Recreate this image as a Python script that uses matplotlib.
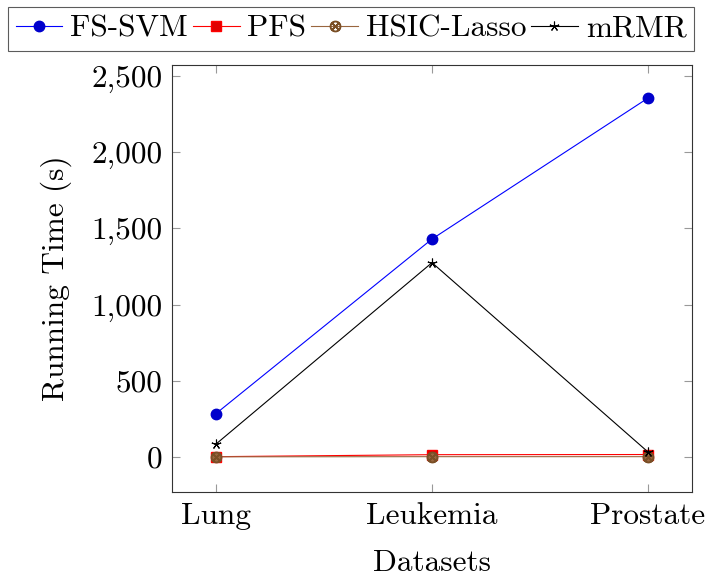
import matplotlib
matplotlib.use("Agg")
import matplotlib.pyplot as plt
from matplotlib.ticker import FuncFormatter

plt.rcParams['font.family'] = 'serif'
plt.rcParams['font.serif'] = ['cmr10', 'DejaVu Serif']
plt.rcParams['mathtext.fontset'] = 'cm'
plt.rcParams['axes.formatter.use_mathtext'] = True

datasets = ["Lung", "Leukemia", "Prostate"]
fs_svm = [285, 1430, 2355]
pfs = [2, 15, 16]
hsic_lasso = [1, 2, 2]
mrmr = [85, 1275, 33]

fig = plt.figure(figsize=(7.07, 5.82), dpi=100)
ax = fig.add_axes([0.2433, 0.1546, 0.7355, 0.7337])
x = list(range(len(datasets)))

FS = 22.5

l1, = ax.plot(x, fs_svm, color='#0000ff', lw=0.8, marker='o', ms=7.5,
              mfc='#0000cc', mec='#0000cc', label='FS-SVM')
l2, = ax.plot(x, pfs, color='#ff0000', lw=0.8, marker='s', ms=7,
              mfc='#e00000', mec='#ff0000', label='PFS')
ax.plot(x, hsic_lasso, color='none', marker='o', ms=7, mfc='#99663f', mec='#99663f', zorder=2)
l3, = ax.plot(x, hsic_lasso, color='#99663f', lw=0.8, marker='$\\otimes$', ms=7.5,
              mfc='#99663f', mec='#7a4f26', label='HSIC-Lasso')
l4, = ax.plot(x, mrmr, color='black', lw=0.8, marker=(5, 2, 0), ms=7,
              mfc='black', mec='black', mew=0.8, label='mRMR')

ax.set_xlim(-0.204, 2.204)
ax.set_ylim(-230, 2572)
ax.set_xticks(x)
ax.set_xticklabels(datasets)
ax.set_yticks([0, 500, 1000, 1500, 2000, 2500])
ax.yaxis.set_major_formatter(FuncFormatter(lambda v, p: f"{int(v):,}"))
ax.tick_params(direction='in', length=6, width=0.8, color='#999999',
               top=True, right=True, labelsize=FS, pad=7)
for s in ax.spines.values():
    s.set_linewidth(0.8)
    s.set_color('#333333')
ax.set_xlabel('Datasets', fontsize=FS, labelpad=14)
ax.set_ylabel('Running Time (s)', fontsize=FS, labelpad=14)

leg = fig.legend(handles=[l1, l2, l3, l4], loc='upper center', bbox_to_anchor=(0.4965, 0.993),
                 ncol=4, fontsize=FS, frameon=True, fancybox=False, edgecolor='#333333',
                 handlelength=1.5, handletextpad=0.25, columnspacing=0.15, borderpad=0.25,
                 borderaxespad=0.1)
leg.get_frame().set_linewidth(0.8)

fig.savefig('out.png', dpi=100)
